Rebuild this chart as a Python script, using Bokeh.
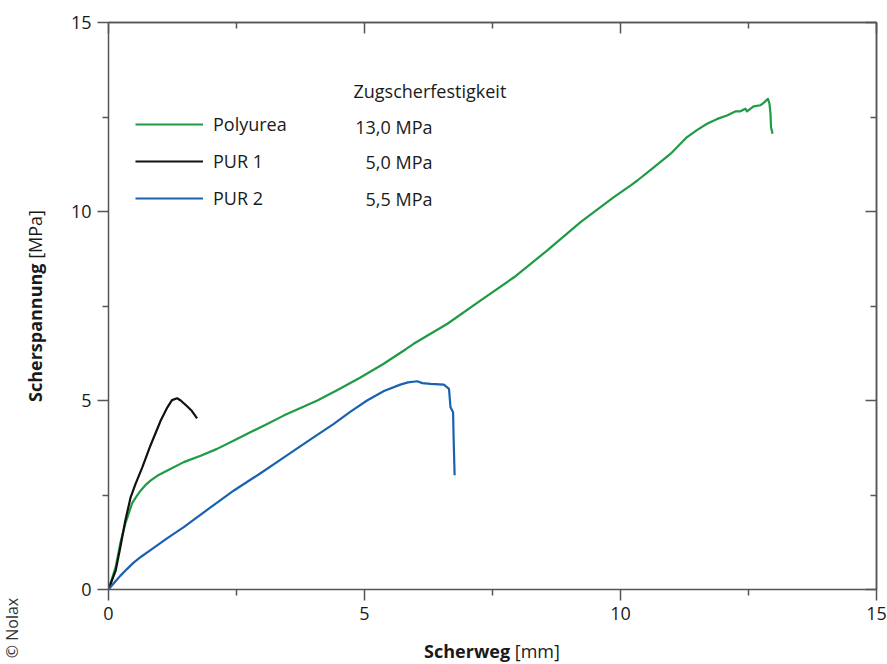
from bokeh.plotting import figure
from bokeh.models import Range1d, LinearAxis, FixedTicker, Label, Legend, LegendItem, Div
from bokeh.layouts import row, column
from bokeh.embed import file_html
from bokeh.resources import INLINE

# ---- data ----
polyurea_x = [0, 0.14, 0.23, 0.33, 0.40, 0.46, 0.55, 0.63, 0.72, 0.82, 0.98, 1.15, 1.47, 1.80,
              2.12, 2.45, 2.77, 3.10, 3.42, 3.75, 4.08, 4.50, 4.92, 5.36, 5.80, 5.96, 6.62,
              7.27, 7.92, 8.57, 9.22, 9.87, 10.20, 10.33, 10.65, 10.98, 11.30, 11.50, 11.69,
              11.89, 12.08, 12.25, 12.34, 12.44, 12.47, 12.60, 12.73, 12.80, 12.88, 12.91,
              12.93, 12.94, 12.97]
polyurea_y = [0, 0.59, 1.22, 1.75, 2.03, 2.28, 2.47, 2.62, 2.76, 2.88, 3.03, 3.15, 3.37, 3.54,
              3.72, 3.94, 4.16, 4.38, 4.60, 4.80, 5.00, 5.30, 5.61, 5.96, 6.35, 6.50, 7.03,
              7.65, 8.26, 8.97, 9.72, 10.38, 10.69, 10.82, 11.17, 11.53, 11.97, 12.16, 12.32,
              12.45, 12.54, 12.65, 12.65, 12.72, 12.65, 12.78, 12.81, 12.88, 12.98, 12.85,
              12.58, 12.23, 12.06]

pur1_x = [0, 0.14, 0.23, 0.33, 0.43, 0.53, 0.66, 0.82, 1.02, 1.15, 1.24, 1.34, 1.41, 1.54, 1.63, 1.73]
pur1_y = [0, 0.50, 1.11, 1.83, 2.43, 2.80, 3.23, 3.81, 4.47, 4.82, 5.01, 5.06, 5.00, 4.84, 4.72, 4.53]

pur2_x = [0, 0.12, 0.23, 0.36, 0.49, 0.65, 0.82, 1.15, 1.47, 1.96, 2.45, 2.94, 3.42, 3.91, 4.40,
          4.72, 5.05, 5.38, 5.70, 5.85, 6.03, 6.13, 6.29, 6.55, 6.65, 6.68, 6.73, 6.74, 6.76]
pur2_y = [0, 0.19, 0.36, 0.54, 0.71, 0.88, 1.04, 1.36, 1.65, 2.14, 2.62, 3.05, 3.49, 3.94, 4.38,
          4.70, 5.00, 5.25, 5.42, 5.48, 5.51, 5.46, 5.44, 5.42, 5.31, 4.82, 4.69, 4.03, 3.02]

series_names = ["Polyurea", "PUR 1", "PUR 2"]
strength_title = "Zugscherfestigkeit"
strength_values = ["13,0 MPa", "5,0 MPa", "5,5 MPa"]
major_ticks = [0, 5, 10, 15]
minor_ticks = [2.5, 7.5, 12.5]
x_label_bold, x_label_unit = "Scherweg", "[mm]"
y_label_bold, y_label_unit = "Scherspannung", "[MPa]"
credit = "© Nolax"

colors = ["#1f9a45", "#111111", "#1a62b0"]
FONT = "Open Sans"
AX = "#555555"
TXT = "#1a1a1a"

LEFT_W = 60          # width of the strip that holds the y title
FIG_W, FIG_H = 887 - LEFT_W, 634
XT_H = 664 - FIG_H   # strip below that holds the x title

p = figure(width=FIG_W, height=FIG_H, x_range=Range1d(0, 15), y_range=Range1d(0, 15),
           x_axis_type=None, y_axis_type=None, output_backend="svg", toolbar_location=None)
p.min_border_left = 108 - LEFT_W
p.min_border_right = 11
p.min_border_top = 22
p.min_border_bottom = FIG_H - 589
p.outline_line_color = None
p.background_fill_color = "white"
p.border_fill_color = "white"


def style_lines(ax):
    ax.axis_line_color = AX
    ax.axis_line_width = 1.5
    ax.major_tick_line_color = AX
    ax.major_tick_line_width = 1.5
    ax.minor_tick_line_color = AX
    ax.minor_tick_line_width = 1.5


def labelled_axis():
    ax = LinearAxis(ticker=FixedTicker(ticks=major_ticks, minor_ticks=minor_ticks))
    style_lines(ax)
    ax.major_tick_out, ax.major_tick_in = 11, 0
    ax.minor_tick_out, ax.minor_tick_in = 6, 0
    ax.major_label_text_font = FONT
    ax.major_label_text_font_size = "18px"
    ax.major_label_text_color = TXT
    ax.major_label_standoff = 6
    return ax


def inner_tick_axis(tick_positions, length):
    # no major ticks -> no tick labels; inward ticks drawn as "minor" ticks
    ax = LinearAxis(ticker=FixedTicker(ticks=[], minor_ticks=tick_positions))
    style_lines(ax)
    ax.major_tick_out, ax.major_tick_in = 0, 0
    ax.minor_tick_out, ax.minor_tick_in = 0, length
    ax.major_label_standoff = 0
    return ax


p.add_layout(labelled_axis(), "left")
p.add_layout(labelled_axis(), "below")
p.add_layout(inner_tick_axis(major_ticks, 11), "right")
p.add_layout(inner_tick_axis(minor_ticks, 6), "right")
p.add_layout(inner_tick_axis(major_ticks, 11), "above")
p.add_layout(inner_tick_axis(minor_ticks, 6), "above")

r_poly = p.line(polyurea_x, polyurea_y, line_color=colors[0], line_width=2.2, line_join="round")
r_pur1 = p.line(pur1_x, pur1_y, line_color=colors[1], line_width=2.2, line_join="round")
r_pur2 = p.line(pur2_x, pur2_y, line_color=colors[2], line_width=2.2, line_join="round")

legend = Legend(items=[LegendItem(label=series_names[0], renderers=[r_poly]),
                       LegendItem(label=series_names[1], renderers=[r_pur1]),
                       LegendItem(label=series_names[2], renderers=[r_pur2])],
                location=(27, 379), orientation="vertical")
legend.glyph_width = 68
legend.glyph_height = 20
legend.label_height = 20
legend.spacing = 13
legend.padding = 0
legend.margin = 0
legend.label_standoff = 10
legend.label_text_font = FONT
legend.label_text_font_size = "18px"
legend.label_text_color = TXT
legend.border_line_color = None
legend.background_fill_alpha = 0
p.add_layout(legend, "center")


def lbl(x, y, text, align="left"):
    p.add_layout(Label(x=x, y=y, x_units="screen", y_units="screen", text=text,
                       text_font=FONT, text_font_size="18px", text_align=align,
                       text_baseline="middle", text_color=TXT))


# strength table (screen coords relative to the frame, y up from the frame bottom)
lbl(245, 589 - 90, strength_title)
row_y = [126, 161, 198]
for v, yy in zip(strength_values, row_y):
    lbl(324, 589 - yy, v, align="right")

# ---- titles outside the frame as HTML (bold word + regular unit) ----
base = f"font-family:'{FONT}';color:{TXT};white-space:nowrap;position:absolute;"
y_html = (f"<div style=\"{base}font-size:18px;left:36px;top:306px;"
          f"transform:translate(-50%,-50%) rotate(-90deg);\">"
          f"<b>{y_label_bold}</b> {y_label_unit}</div>"
          f"<div style=\"{base}font-size:16px;color:#333333;left:12px;top:628px;"
          f"transform:translate(-50%,-50%) rotate(-90deg);\">{credit}</div>")
x_html = (f"<div style=\"{base}font-size:18px;left:{492 - LEFT_W}px;top:{652 - FIG_H}px;"
          f"transform:translate(-50%,-50%);\">"
          f"<b>{x_label_bold}</b> {x_label_unit}</div>")

div_y = Div(text=y_html, width=LEFT_W, height=664, margin=(0, 0, 0, 0),
            styles={"position": "relative", "overflow": "visible"})
div_x = Div(text=x_html, width=FIG_W, height=XT_H, margin=(0, 0, 0, 0),
            styles={"position": "relative", "overflow": "visible"})

layout = row(div_y, column(p, div_x, spacing=0), spacing=0)

open("out.html", "w").write(file_html(layout, INLINE))
